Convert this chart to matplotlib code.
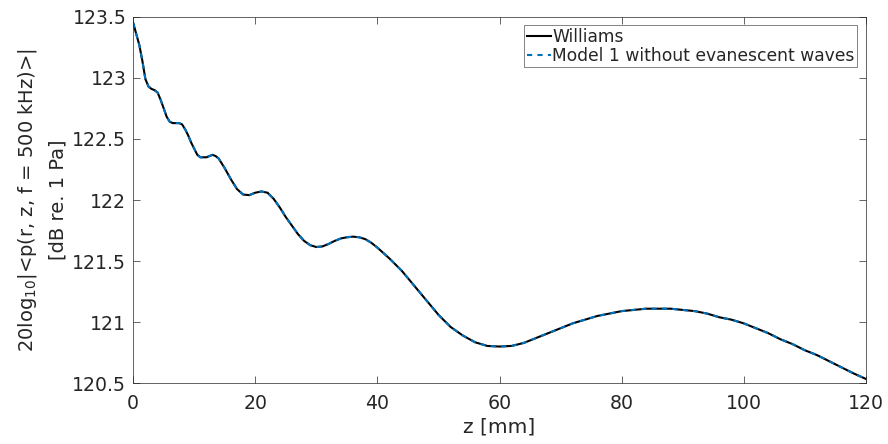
import matplotlib
matplotlib.use("Agg")
import matplotlib.pyplot as plt

z_mm = [0, 0.5, 1, 1.5, 2, 2.5, 3, 3.5, 4, 4.5, 5, 5.5, 6, 6.5, 7, 7.5, 8, 8.5, 9, 9.5,
        10, 10.5, 11, 11.5, 12, 12.5, 13, 13.5, 14, 15, 16, 17, 18, 19, 20, 21, 22, 23,
        24, 25, 26, 27, 28, 29, 30, 31, 32, 33, 34, 35, 36, 37, 38, 39, 40, 42, 44, 46,
        48, 50, 52, 54, 56, 58, 60, 62, 64, 66, 68, 70, 72, 74, 76, 78, 80, 82, 84, 86,
        88, 90, 92, 94, 96, 98, 100, 102, 104, 106, 108, 110, 112, 114, 116, 118, 120]

williams_db = [123.45, 123.36, 123.27, 123.14, 122.99, 122.93, 122.91, 122.90, 122.88,
               122.82, 122.75, 122.68, 122.64, 122.63, 122.63, 122.63, 122.62, 122.58,
               122.53, 122.47, 122.42, 122.37, 122.35, 122.35, 122.35, 122.36, 122.37,
               122.36, 122.34, 122.26, 122.17, 122.09, 122.045, 122.04, 122.06, 122.07,
               122.06, 122.01, 121.94, 121.86, 121.79, 121.72, 121.665, 121.63, 121.615,
               121.62, 121.64, 121.665, 121.685, 121.695, 121.70, 121.695, 121.68, 121.65,
               121.61, 121.52, 121.42, 121.30, 121.18, 121.06, 120.96, 120.89, 120.835,
               120.805, 120.80, 120.805, 120.83, 120.87, 120.91, 120.95, 120.99, 121.02,
               121.05, 121.07, 121.09, 121.10, 121.11, 121.11, 121.11, 121.10, 121.09,
               121.07, 121.04, 121.02, 120.99, 120.95, 120.91, 120.86, 120.82, 120.77,
               120.73, 120.68, 120.63, 120.58, 120.535]

model1_db = list(williams_db)

x_ticks = [0, 20, 40, 60, 80, 100, 120]
y_ticks = [120.5, 121, 121.5, 122, 122.5, 123, 123.5]
y_ticklabels = ["120.5", "121", "121.5", "122", "122.5", "123", "123.5"]

plt.rcParams['font.family'] = ['DejaVu Sans']
fig = plt.figure(figsize=(8.88, 4.44), dpi=100)
ax = fig.add_axes([0.150, 0.137, 0.825, 0.825])

axcol = (0.15, 0.15, 0.15)
ax.plot(z_mm, williams_db, color='black', lw=1.5, label='Williams')
ax.plot(z_mm, model1_db, color='#0072BD', lw=1.5, ls=(0, (2.5, 2.5)),
        label='Model 1 without evanescent waves')

ax.set_xlim(0, 120)
ax.set_ylim(120.5, 123.5)
ax.set_xticks(x_ticks)
ax.set_yticks(y_ticks)
ax.set_yticklabels(y_ticklabels)
ax.tick_params(direction='in', length=5, width=0.5, top=True, right=True,
               labelsize=13.6, colors=axcol, labelcolor=axcol)
ax.tick_params(axis='x', pad=8)
ax.tick_params(axis='y', pad=5)
for s in ax.spines.values():
    s.set_color(axcol)
    s.set_linewidth(0.5)

ax.set_xlabel('z [mm]', fontsize=14.5, color=axcol, labelpad=3)
ax.set_ylabel('20log$_{10}$|<p(r, z, f = 500 kHz)>|\n[dB re. 1 Pa]',
              fontsize=14, color=axcol, linespacing=1.6)
ax.yaxis.set_label_coords(-0.090, 0.5)

leg = ax.legend(loc='upper right', fontsize=12.3, frameon=True, fancybox=False,
                handlelength=1.4, handletextpad=0.1, borderpad=0.15,
                labelspacing=0.05, borderaxespad=0.5)
leg.get_frame().set_edgecolor(axcol)
leg.get_frame().set_linewidth(0.5)
for t in leg.get_texts():
    t.set_color(axcol)

fig.savefig('out.png', dpi=100)
